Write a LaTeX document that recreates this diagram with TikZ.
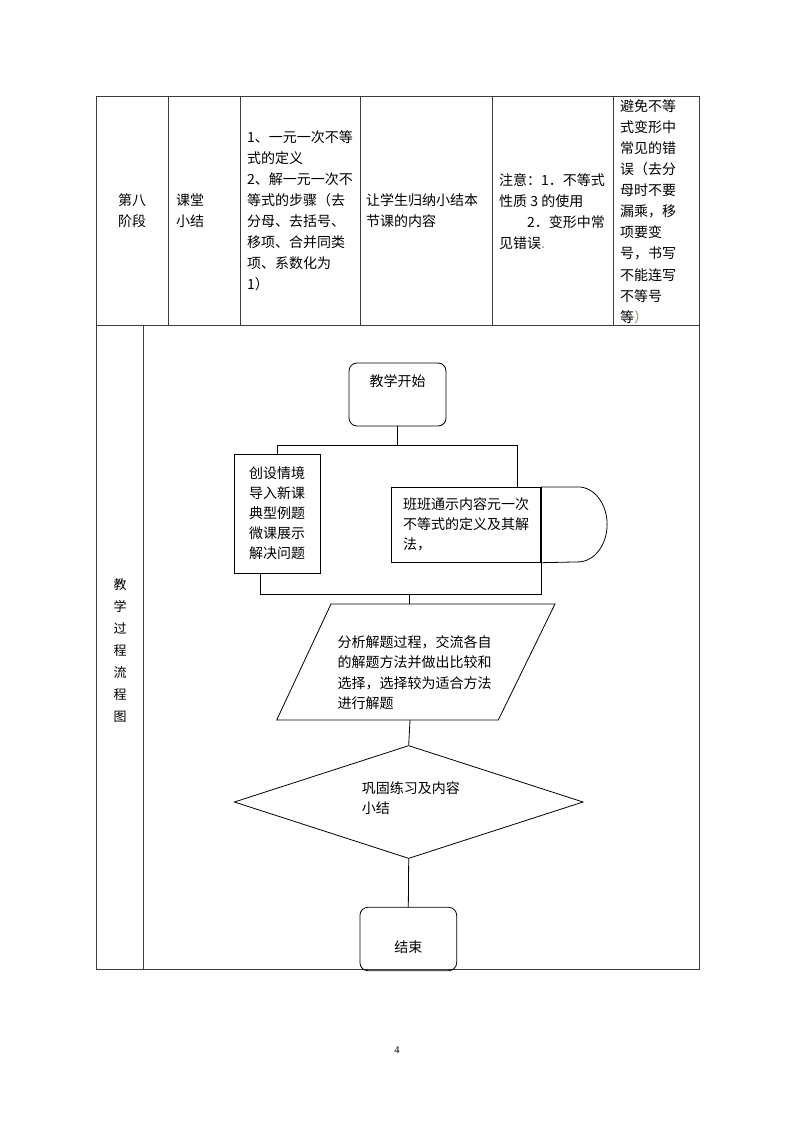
\documentclass[tikz,border=0pt]{standalone}
\usepackage{fontspec}
\setmainfont{Noto Sans CJK SC}
\newfontfamily\pgserif{Liberation Serif}
\usetikzlibrary{shapes.geometric}
\definecolor{punc}{RGB}{150,150,90}
\definecolor{tblline}{RGB}{60,60,60}
\begin{document}
\begin{tikzpicture}[x=1pt,y=-1pt,
  every node/.style={inner sep=0pt, font=\fontsize{14pt}{21pt}\selectfont},
  tbl/.style={draw=tblline, line width=0.9pt},
  fc/.style={draw=black, line width=0.8pt},
  ft/.style={font=\fontsize{14pt}{20pt}\selectfont},
  fw/.style={font=\fontsize{14pt}{20.5pt}\selectfont},
  tc/.style={font=\fontsize{14pt}{21.1pt}\selectfont}]
\useasboundingbox (0,0) rectangle (794,1123);
\fill[white] (0,0) rectangle (794,1123);

% table
\draw[tbl] (96.5,96) rectangle (699.5,969.5);
\draw[tbl] (96.5,325) -- (699.5,325);
\foreach \x in {168.3,240.7,360.7,492.3,613.3} \draw[tbl] (\x,96) -- (\x,325);
\draw[tbl] (143.3,325) -- (143.3,969.5);

% top row texts
\node[align=center] (c1) at (132,211) {第八\\阶段};
\node[anchor=west, align=left] (c2) at (176,211) {课堂\\小结};
\node[anchor=west, align=left] (c3) at (247,211) {1、一元一次不等\\式的定义\\2、解一元一次不\\等式的步骤（去\\分母、去括号、\\移项、合并同类\\项、系数化为\\1）};
\node[anchor=west, align=left] (c4) at (366,211) {让学生归纳小结本\\节课的内容};
\node[anchor=west, align=left] (c5) at (499,212) {注意：1．不等式\\性质 3 的使用\\\hspace*{28pt}2．变形中常\\见错误{\color{punc}.}};
\node[anchor=west, align=left, tc] (c6) at (620,211.5) {避免不等\\式变形中\\常见的错\\误（去分\\母时不要\\漏乘，移\\项要变\\号，书写\\不能连写\\不等号\\等{\color{punc}）}};

% left label
\node[align=center, font=\fontsize{13pt}{22pt}\selectfont] (lab) at (120,651) {教\\学\\过\\程\\流\\程\\图};

% flowchart
\node[fc, rounded corners=8pt, minimum width=97pt, text height=23pt, text depth=40pt] (start) at (397.5,394.5) {教学开始};
\node[fc, minimum width=86pt, minimum height=119pt, align=left, ft] (box1) at (277,513.5) {创设情境\\导入新课\\典型例题\\微课展示\\解决问题};
\node[fc, minimum width=149pt, minimum height=75pt, align=left, ft] (box2) at (466.2,524.8) {班班通示内容元一次\\不等式的定义及其解\\法，};
\draw[line width=2pt] (box2.north east) -- (box2.south east);
\draw[fc] (box2.north east) -- ++(37,0) arc[start angle=90, end angle=-90, x radius=29pt, y radius=37.5pt] -- (box2.south east);

\coordinate (jt) at (397.5,445);
\coordinate (jr) at (517,445);
\draw[fc] (start.south) -- (jt);
\draw[fc] (box1.north) |- (jr) -- (box2.north -| jr);

\coordinate (jb) at (260.7,594);
\coordinate (paraT) at (409.3,604);
\draw[fc] (box1.south -| jb) -- (jb) -| (box2.south east);
\draw[fc] (paraT |- jb) -- (paraT);

\draw[fc] (331,604) -- (555,604) -- (498.3,720) -- (276.7,720) -- cycle;
\node[anchor=west, align=left, fw] (para) at (337.3,672.5) {分析解题过程，交流各自\\的解题方法并做出比较和\\选择，选择较为适合方法\\进行解题};
\coordinate (paraB) at (410,720);

\node[fc, diamond, minimum width=349pt, minimum height=113pt, inner sep=0pt] (dia) at (408.7,802) {};
\node[anchor=west, align=left, ft] (diaT) at (361.7,798.3) {巩固练习及内容\\小结};
\draw[fc] (paraB) -- (dia.north);

\node[fc, rounded corners=8pt, minimum width=96.7pt, text height=44.7pt, text depth=18.7pt] (fin) at (408.3,939) {结束};
\draw[fc] (dia.south) -- (fin.north);

\node[font=\pgserif\fontsize{10.5pt}{12pt}\selectfont] (pg) at (397,1050) {4};
\end{tikzpicture}
\end{document}
